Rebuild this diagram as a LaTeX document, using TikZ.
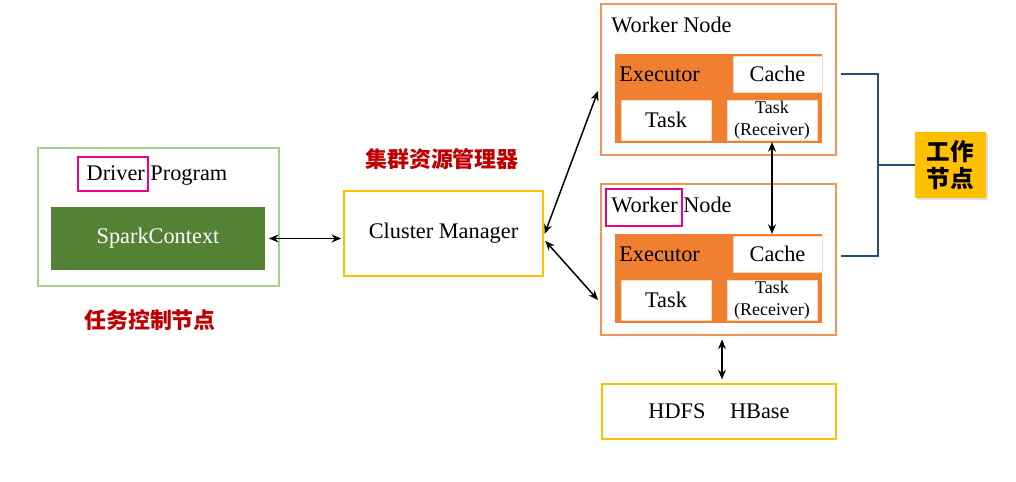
\documentclass[tikz,border=0pt]{standalone}
\usepackage{fontspec}
\setmainfont{Liberation Serif}
\newfontfamily\cjk{Noto Sans CJK SC}
\usetikzlibrary{arrows.meta,positioning,shadows}

\definecolor{lgreen}{RGB}{169,209,142}
\definecolor{dgreen}{RGB}{84,130,53}
\definecolor{gold}{RGB}{255,192,0}
\definecolor{orng}{RGB}{240,128,48}
\definecolor{lorng}{RGB}{240,150,90}
\definecolor{dred}{RGB}{192,0,0}
\definecolor{navy}{RGB}{38,78,120}
\newcommand{\mainfs}{\fontsize{12.7pt}{15pt}\selectfont}
\newcommand{\smallfs}{\fontsize{10.2pt}{12.5pt}\selectfont}

\begin{document}
\begin{tikzpicture}[x=0.02cm, y=-0.02cm,
  every node/.style={inner sep=0pt},
  px size/.style 2 args={minimum width=#1*0.02cm, minimum height=#2*0.02cm},
  drvbox/.style={draw=lgreen, line width=1.2pt},
  goldbox/.style={draw=gold, line width=1.2pt, font=\mainfs},
  wbox/.style={draw=lorng, line width=1.1pt},
  execbox/.style={fill=orng},
  whitebox/.style={fill=white, draw=orng!30, line width=0.3pt, font=\mainfs},
  hilite/.style={draw=magenta, line width=1.3pt},
  cnlabel/.style={font=\cjk\bfseries\fontsize{12.5pt}{14pt}\selectfont, text=dred},
  link/.style={{Stealth[length=5.5pt,width=4.5pt]}-{Stealth[length=5.5pt,width=4.5pt]}, line width=0.85pt}]
  % Canvas
  \fill[white] (0,0) rectangle (1016,482);
  \useasboundingbox (0,0) rectangle (1016,482);

  % Driver side
  \node[drvbox, px size={241}{138}] (driver) at (158.5,217) {};
  \node[font=\mainfs] (drvlabel) at (157,176) {Driver Program};
  \node[hilite, px size={70}{34}] (drvmark) at (113,174) {};
  \node[fill=dgreen, text=white, font=\mainfs, px size={214}{63}] (spark) at (158,238.5) {SparkContext};
  \node[cnlabel] (drvcn) at (150,320) {任务控制节点};

  % Cluster manager
  \node[goldbox, px size={199}{85}] (cm) at (443.5,233.5) {Cluster Manager};
  \node[cnlabel] (cmcn) at (442,159) {集群资源管理器};

  % Worker nodes
  \foreach \k/\dy in {1/0,2/180} {
    \node[wbox, px size={235}{151}] (wn\k) at (718.5,79.5+\dy) {};
    \node[execbox, px size={207}{89}] (exec\k) at (718.5,98.5+\dy) {};
    \node[whitebox, px size={89}{36}] (cache\k) at (777.5,74+\dy) {Cache};
    \node[whitebox, px size={90}{40}] (task\k) at (666,120+\dy) {Task};
    \node[whitebox, align=center, font=\smallfs, px size={90}{40}] (recv\k) at (772,120+\dy) {Task\\(Receiver)};
    \node[anchor=west, font=\mainfs] (wlabel\k) at (611,25+\dy) {Worker Node};
    \node[anchor=west, font=\mainfs] (exlabel\k) at (619,74+\dy) {Executor};
  }
  \node[hilite, px size={76}{37}] (wmark) at (644,207.5) {};

  % Storage
  \node[goldbox, px size={234}{55}] (hdfs) at (719,411.5) {HDFS\hspace{1.1em}HBase};

  % Work label
  \node[fill=gold, align=center, font=\cjk\bfseries\fontsize{13.4pt}{15.5pt}\selectfont,
        drop shadow={shadow xshift=1.2pt, shadow yshift=-1.2pt, opacity=0.25},
        px size={71}{66}] (work) at (950.5,165) {工作\\节点};

  % Define points
  \coordinate (w1in) at (598,91);
  \coordinate (w2in) at (598,300);
  \coordinate (bt) at (841,74);
  \coordinate (bb) at (841,256);
  \coordinate (bm) at (878,165);

  % Connectors
  \draw[link, shorten <=2pt, shorten >=1pt] (spark.east) -- (spark.east -| cm.west);
  \draw[link, shorten <=1pt] ([yshift=-2*0.02cm]cm.east) -- (w1in);
  \draw[link, shorten <=1pt] ([yshift=-6*0.02cm]cm.east) -- (w2in);
  \draw[link, shorten <=1pt, shorten >=1pt] (recv1.south) -- (recv1.south |- cache2.north);
  \draw[link, shorten <=2pt, shorten >=2pt] ([xshift=3*0.02cm]hdfs.north) -- ([xshift=3*0.02cm]hdfs.north |- wn2.south);

  % Bracket
  \draw[navy, line width=0.9pt] (bt) -- (bt -| bm) -- (bb -| bm) -- (bb);
  \draw[navy, line width=0.9pt] (bm) -- (work.west |- bm);
\end{tikzpicture}
\end{document}
